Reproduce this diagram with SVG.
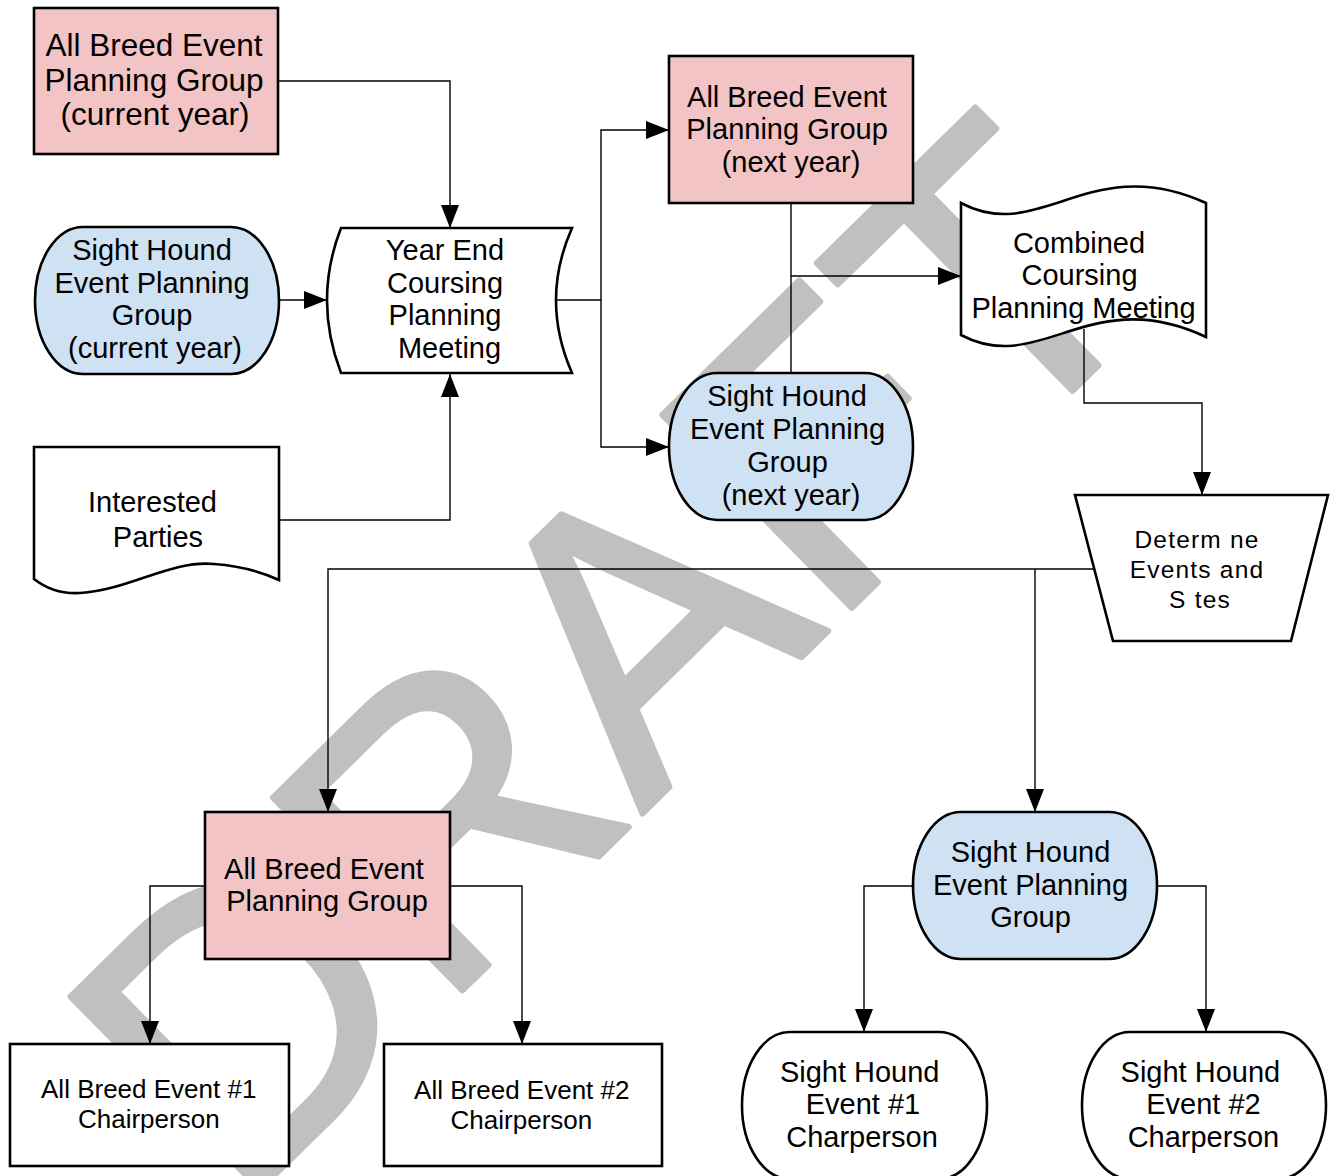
<svg xmlns="http://www.w3.org/2000/svg" width="1338" height="1176" viewBox="0 0 1338 1176">
  <defs>
    <marker id="arrow" markerUnits="userSpaceOnUse" markerWidth="24" markerHeight="18" refX="23" refY="9" orient="auto">
      <path d="M0,0 L23,9 L0,18 Z" fill="#000"/>
    </marker>
  </defs>
  <style>
    .node { stroke: #000; stroke-width: 2.6; }
    .pink { fill: #f2c4c5; }
    .blue { fill: #cfe2f3; }
    .white { fill: #ffffff; }
    .conn { fill: none; stroke: #000; stroke-width: 1.4; }
    .arr { marker-end: url(#arrow); }
    text { font-family: "Liberation Sans", Arial, sans-serif; fill: #000; text-anchor: middle; }
    .t29 { font-size: 29px; }
    .t31 { font-size: 31.5px; }
    .t26 { font-size: 26px; }
    .t24 { font-size: 24.5px; letter-spacing: 1.2px; }
    .wm { font-size: 393px; fill: #c0c0c0; stroke: #c0c0c0; stroke-width: 6; stroke-linejoin: round; text-anchor: start; }
  </style>
  <rect width="1338" height="1176" fill="#ffffff"/>

  <g id="watermark">
    <text class="wm" transform="translate(237,1212) rotate(-44.5)" x="0" y="0">DRAFT</text>
  </g>

  <g id="connectors">
    <path class="conn arr" d="M278,81 H450 V228"/>
    <path class="conn arr" d="M279,300 H327"/>
    <path class="conn arr" d="M279,520 H450 V374"/>
    <path class="conn arr" d="M557,300 H601 V130 H669"/>
    <path class="conn arr" d="M601,300 V447 H669"/>
    <path class="conn" d="M791,203 V373"/>
    <path class="conn arr" d="M791,276 H961"/>
    <path class="conn arr" d="M1084,329 V403 H1202 V495"/>
    <path class="conn arr" d="M1094,569 H328 V812"/>
    <path class="conn arr" d="M1035,569 V812"/>
    <path class="conn arr" d="M205,886 H150 V1044"/>
    <path class="conn arr" d="M450,886 H522 V1044"/>
    <path class="conn arr" d="M913,886 H864 V1032"/>
    <path class="conn arr" d="M1157,886 H1206 V1032"/>
  </g>

  <g id="abepg-current">
    <rect class="node pink" x="34" y="8" width="244" height="146"/>
    <text class="t31" x="154" y="56">All Breed Event</text>
    <text class="t31" x="154" y="90.5">Planning Group</text>
    <text class="t31" x="155" y="125">(current year)</text>
  </g>

  <g id="shepg-current">
    <rect class="node blue" x="35" y="227" width="244" height="147" rx="48" ry="73.5"/>
    <text class="t29" x="152" y="260">Sight Hound</text>
    <text class="t29" x="152" y="292.5">Event Planning</text>
    <text class="t29" x="152" y="325">Group</text>
    <text class="t29" x="155" y="357.5">(current year)</text>
  </g>

  <g id="year-end-meeting">
    <path class="node white" d="M341,228 H572 Q540,300 572,373 H341 Q313,300 341,228 Z"/>
    <text class="t29" x="445" y="260">Year End</text>
    <text class="t29" x="445" y="292.5">Coursing</text>
    <text class="t29" x="445" y="325">Planning</text>
    <text class="t29" x="449.5" y="357.5">Meeting</text>
  </g>

  <g id="interested-parties">
    <path class="node white" d="M34,447 H279 V580 C262,572 240,566 214,564 C170,560 130,590 80,593 C62,594 48,590 34,579 Z"/>
    <text class="t29" x="152.5" y="512">Interested</text>
    <text class="t29" x="158" y="547">Parties</text>
  </g>

  <g id="abepg-next">
    <rect class="node pink" x="669" y="56" width="244" height="147"/>
    <text class="t29" x="787" y="106.5">All Breed Event</text>
    <text class="t29" x="787" y="139">Planning Group</text>
    <text class="t29" x="791" y="172">(next year)</text>
  </g>

  <g id="shepg-next">
    <rect class="node blue" x="669" y="373" width="244" height="147" rx="48" ry="73.5"/>
    <text class="t29" x="787" y="406">Sight Hound</text>
    <text class="t29" x="787.5" y="439">Event Planning</text>
    <text class="t29" x="787.5" y="472">Group</text>
    <text class="t29" x="791" y="505">(next year)</text>
  </g>

  <g id="combined-meeting">
    <path class="node white" d="M961,203 C1040,245 1090,150 1206,203 V337 C1090,282 1040,377 961,335 Z"/>
    <text class="t29" x="1079" y="252.5">Combined</text>
    <text class="t29" x="1079.5" y="285">Coursing</text>
    <text class="t29" x="1083.5" y="318">Planning Meeting</text>
  </g>

  <g id="determine-events">
    <path class="node white" d="M1075,495 H1328 L1291,641 H1113 Z"/>
    <text class="t24" x="1197" y="547.5">Determ ne</text>
    <text class="t24" x="1197" y="577.5">Events and</text>
    <text class="t24" x="1200" y="607.5">S tes</text>
  </g>

  <g id="abepg">
    <rect class="node pink" x="205" y="812" width="245" height="147"/>
    <text class="t29" x="324" y="878.5">All Breed Event</text>
    <text class="t29" x="327" y="911">Planning Group</text>
  </g>

  <g id="shepg">
    <rect class="node blue" x="913" y="812" width="244" height="147" rx="48" ry="73.5"/>
    <text class="t29" x="1030.5" y="862">Sight Hound</text>
    <text class="t29" x="1030.5" y="895">Event Planning</text>
    <text class="t29" x="1030.5" y="927">Group</text>
  </g>

  <g id="abe1-chair">
    <rect class="node white" x="10" y="1044" width="279" height="122"/>
    <text class="t26" x="148.7" y="1098">All Breed Event #1</text>
    <text class="t26" x="148.8" y="1128">Chairperson</text>
  </g>

  <g id="abe2-chair">
    <rect class="node white" x="384" y="1044" width="278" height="122"/>
    <text class="t26" x="521.8" y="1099">All Breed Event #2</text>
    <text class="t26" x="521.4" y="1129">Chairperson</text>
  </g>

  <g id="she1-chair">
    <rect class="node white" x="742" y="1032" width="245" height="147" rx="48" ry="73.5"/>
    <text class="t29" x="859.7" y="1081.5">Sight Hound</text>
    <text class="t29" x="863" y="1114">Event #1</text>
    <text class="t29" x="862" y="1146.5">Charperson</text>
  </g>

  <g id="she2-chair">
    <rect class="node white" x="1082" y="1032" width="244" height="147" rx="48" ry="73.5"/>
    <text class="t29" x="1200.4" y="1081.5">Sight Hound</text>
    <text class="t29" x="1203.5" y="1114">Event #2</text>
    <text class="t29" x="1203.4" y="1146.5">Charperson</text>
  </g>
</svg>
